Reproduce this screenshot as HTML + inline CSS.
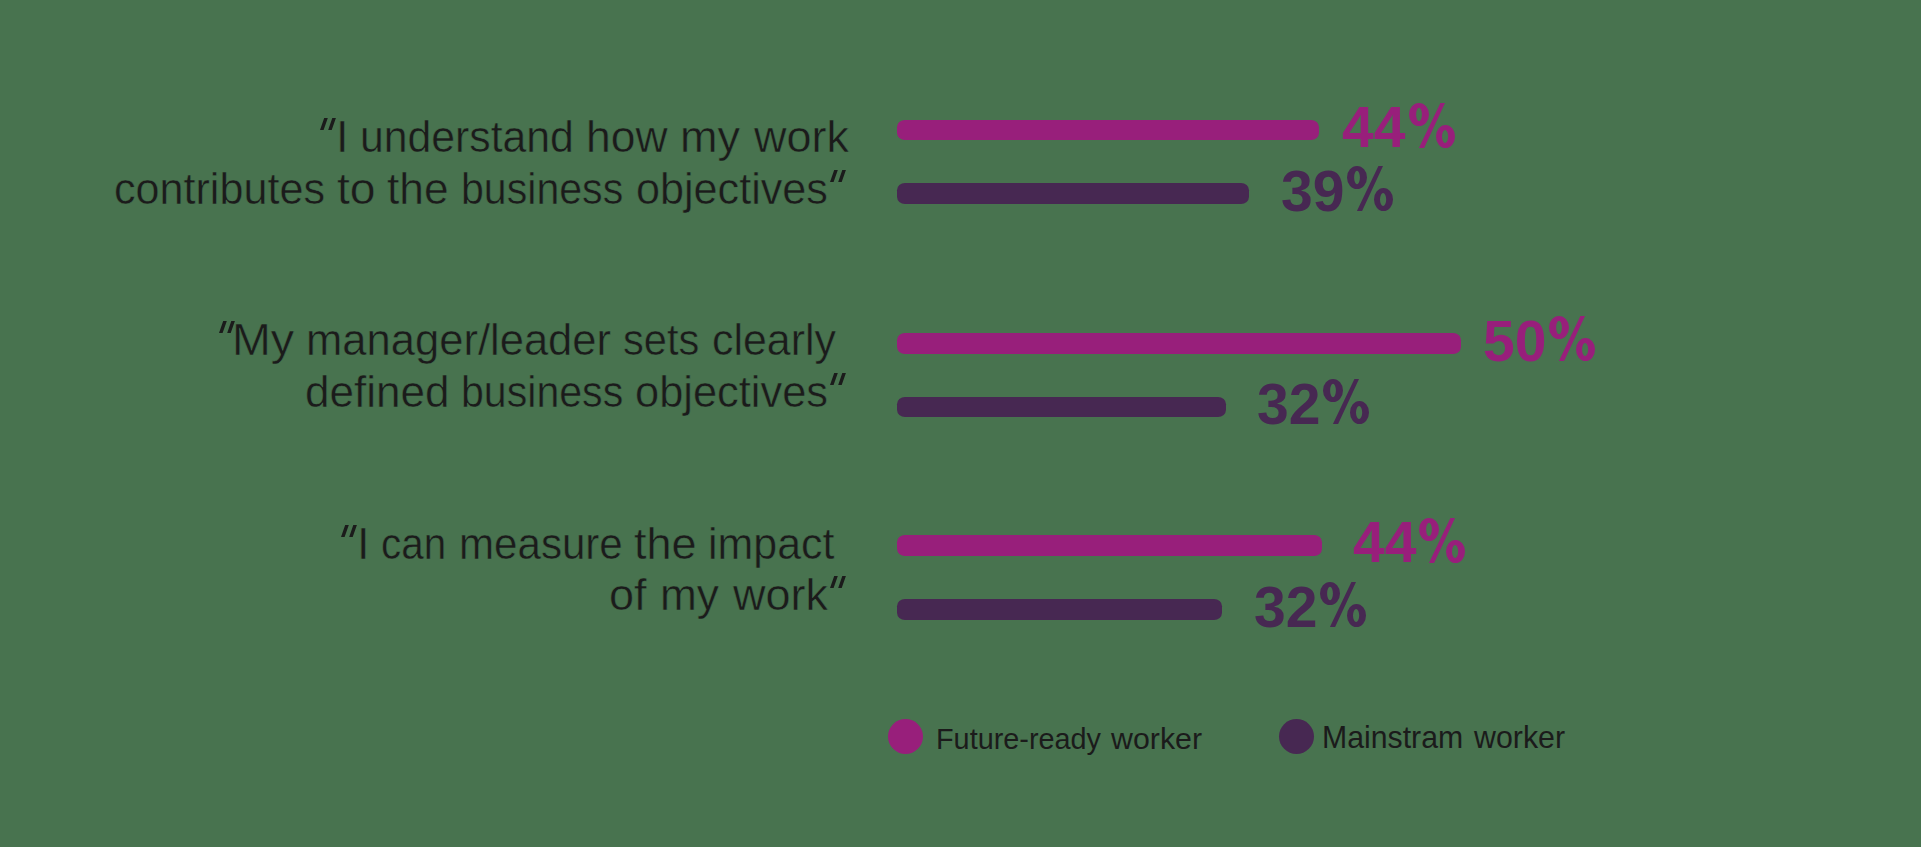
<!DOCTYPE html>
<html><head><meta charset="utf-8"><style>
html,body{margin:0;padding:0;}
body{width:1921px;height:847px;background:#48734f;position:relative;overflow:hidden;font-family:"Liberation Sans",sans-serif;}
.lb{position:absolute;transform-origin:0 50%;-webkit-text-stroke:0.5px #48734f;font-size:45px;line-height:45px;color:#1b1b1b;white-space:nowrap;}
.q,.ps{position:absolute;display:block;}
.bar{position:absolute;border-radius:8px / 7.2px;}
.pc{position:absolute;font-size:57px;line-height:57px;font-weight:bold;white-space:nowrap;}
.dot{position:absolute;border-radius:50%;}
.lg{position:absolute;transform-origin:0 50%;color:#1b1b1b;white-space:nowrap;}
</style></head><body>
<div class="lb" style="left:336.00px;top:113.90px">I</div>
<div class="lb" style="left:360.15px;top:113.90px;transform:scaleX(0.9498)">understand</div>
<div class="lb" style="left:586.04px;top:113.90px;transform:scaleX(0.9873)">how</div>
<div class="lb" style="left:680.00px;top:113.90px">my</div>
<div class="lb" style="left:754.00px;top:113.90px">work</div>
<div class="lb" style="left:114.08px;top:165.90px;transform:scaleX(0.9583)">contributes</div>
<div class="lb" style="left:336.97px;top:165.90px;transform:scaleX(1.0286)">to</div>
<div class="lb" style="left:387.02px;top:165.90px;transform:scaleX(0.9833)">the</div>
<div class="lb" style="left:461.26px;top:165.90px;transform:scaleX(0.9133)">business</div>
<div class="lb" style="left:636.08px;top:165.90px;transform:scaleX(0.9592)">objectives</div>
<div class="lb" style="left:231.86px;top:316.90px;transform:scaleX(1.0357)">My</div>
<div class="lb" style="left:306.10px;top:316.90px;transform:scaleX(0.9678)">manager/leader</div>
<div class="lb" style="left:623.15px;top:316.90px;transform:scaleX(0.9241)">sets</div>
<div class="lb" style="left:712.09px;top:316.90px;transform:scaleX(0.9531)">clearly</div>
<div class="lb" style="left:305.04px;top:368.90px;transform:scaleX(0.9790)">defined</div>
<div class="lb" style="left:461.26px;top:368.90px;transform:scaleX(0.9133)">business</div>
<div class="lb" style="left:635.07px;top:368.90px;transform:scaleX(0.9643)">objectives</div>
<div class="lb" style="left:357.00px;top:520.90px">I</div>
<div class="lb" style="left:381.21px;top:520.90px;transform:scaleX(0.8971)">can</div>
<div class="lb" style="left:459.19px;top:520.90px;transform:scaleX(0.9353)">measure</div>
<div class="lb" style="left:634.00px;top:520.90px">the</div>
<div class="lb" style="left:708.14px;top:520.90px;transform:scaleX(0.9535)">impact</div>
<div class="lb" style="left:609.00px;top:571.90px">of</div>
<div class="lb" style="left:660.05px;top:571.90px;transform:scaleX(0.9825)">my</div>
<div class="lb" style="left:733.00px;top:571.90px">work</div>
<svg class="q" style="left:320px;top:118px" width="16" height="12" viewBox="0 0 16 12"><path fill="#1b1b1b" d="M4.2,0L7.8,0L3.6,12L0,12Z M12.3,0L15.9,0L11.7,12L8.2,12Z"/></svg>
<svg class="q" style="left:830px;top:170px" width="16" height="12" viewBox="0 0 16 12"><path fill="#1b1b1b" d="M4.2,0L7.8,0L3.6,12L0,12Z M12.3,0L15.9,0L11.7,12L8.2,12Z"/></svg>
<svg class="q" style="left:219px;top:321px" width="16" height="12" viewBox="0 0 16 12"><path fill="#1b1b1b" d="M4.2,0L7.8,0L3.6,12L0,12Z M12.3,0L15.9,0L11.7,12L8.2,12Z"/></svg>
<svg class="q" style="left:830px;top:373px" width="16" height="12" viewBox="0 0 16 12"><path fill="#1b1b1b" d="M4.2,0L7.8,0L3.6,12L0,12Z M12.3,0L15.9,0L11.7,12L8.2,12Z"/></svg>
<svg class="q" style="left:341px;top:525px" width="16" height="12" viewBox="0 0 16 12"><path fill="#1b1b1b" d="M4.2,0L7.8,0L3.6,12L0,12Z M12.3,0L15.9,0L11.7,12L8.2,12Z"/></svg>
<svg class="q" style="left:830px;top:576px" width="16" height="12" viewBox="0 0 16 12"><path fill="#1b1b1b" d="M4.2,0L7.8,0L3.6,12L0,12Z M12.3,0L15.9,0L11.7,12L8.2,12Z"/></svg>
<div class="bar" style="left:897px;top:120px;width:422px;height:20px;background:#981f7b"></div>
<div class="bar" style="left:897px;top:183px;width:352px;height:21px;background:#472852"></div>
<div class="bar" style="left:897px;top:333px;width:564px;height:21px;background:#981f7b"></div>
<div class="bar" style="left:897px;top:397px;width:329px;height:20px;background:#472852"></div>
<div class="bar" style="left:897px;top:535px;width:425px;height:21px;background:#981f7b"></div>
<div class="bar" style="left:897px;top:599px;width:325px;height:21px;background:#472852"></div>
<div class="pc" style="left:1342px;top:98.74px;color:#981f7b">44</div>
<svg class="ps" style="left:1409px;top:103px" width="47" height="45" viewBox="0 0 47 45"><path fill="#981f7b" fill-rule="evenodd" d="M0,11.5a10,11.5 0 1,0 20,0a10,11.5 0 1,0 -20,0Z M7.1,11.5a2.9,6.7 0 1,0 5.8,0a2.9,6.7 0 1,0 -5.8,0Z M27,33.5a9.5,11.5 0 1,0 19,0a9.5,11.5 0 1,0 -19,0Z M33,33.5a3.1,6.5 0 1,0 6.2,0a3.1,6.5 0 1,0 -6.2,0Z M31.4,0L36,0L15.1,45L9.9,45Z"/></svg>
<div class="pc" style="left:1281px;top:162.74px;color:#472852">39</div>
<svg class="ps" style="left:1347px;top:166px" width="47" height="45" viewBox="0 0 47 45"><path fill="#472852" fill-rule="evenodd" d="M0,11.5a10,11.5 0 1,0 20,0a10,11.5 0 1,0 -20,0Z M7.1,11.5a2.9,6.7 0 1,0 5.8,0a2.9,6.7 0 1,0 -5.8,0Z M27,33.5a9.5,11.5 0 1,0 19,0a9.5,11.5 0 1,0 -19,0Z M33,33.5a3.1,6.5 0 1,0 6.2,0a3.1,6.5 0 1,0 -6.2,0Z M31.4,0L36,0L15.1,45L9.9,45Z"/></svg>
<div class="pc" style="left:1483px;top:312.74px;color:#981f7b">50</div>
<svg class="ps" style="left:1549px;top:316px" width="47" height="45" viewBox="0 0 47 45"><path fill="#981f7b" fill-rule="evenodd" d="M0,11.5a10,11.5 0 1,0 20,0a10,11.5 0 1,0 -20,0Z M7.1,11.5a2.9,6.7 0 1,0 5.8,0a2.9,6.7 0 1,0 -5.8,0Z M27,33.5a9.5,11.5 0 1,0 19,0a9.5,11.5 0 1,0 -19,0Z M33,33.5a3.1,6.5 0 1,0 6.2,0a3.1,6.5 0 1,0 -6.2,0Z M31.4,0L36,0L15.1,45L9.9,45Z"/></svg>
<div class="pc" style="left:1257px;top:375.74px;color:#472852">32</div>
<svg class="ps" style="left:1323px;top:379px" width="47" height="45" viewBox="0 0 47 45"><path fill="#472852" fill-rule="evenodd" d="M0,11.5a10,11.5 0 1,0 20,0a10,11.5 0 1,0 -20,0Z M7.1,11.5a2.9,6.7 0 1,0 5.8,0a2.9,6.7 0 1,0 -5.8,0Z M27,33.5a9.5,11.5 0 1,0 19,0a9.5,11.5 0 1,0 -19,0Z M33,33.5a3.1,6.5 0 1,0 6.2,0a3.1,6.5 0 1,0 -6.2,0Z M31.4,0L36,0L15.1,45L9.9,45Z"/></svg>
<div class="pc" style="left:1353px;top:513.74px;color:#981f7b">44</div>
<svg class="ps" style="left:1419px;top:518px" width="47" height="45" viewBox="0 0 47 45"><path fill="#981f7b" fill-rule="evenodd" d="M0,11.5a10,11.5 0 1,0 20,0a10,11.5 0 1,0 -20,0Z M7.1,11.5a2.9,6.7 0 1,0 5.8,0a2.9,6.7 0 1,0 -5.8,0Z M27,33.5a9.5,11.5 0 1,0 19,0a9.5,11.5 0 1,0 -19,0Z M33,33.5a3.1,6.5 0 1,0 6.2,0a3.1,6.5 0 1,0 -6.2,0Z M31.4,0L36,0L15.1,45L9.9,45Z"/></svg>
<div class="pc" style="left:1254px;top:578.74px;color:#472852">32</div>
<svg class="ps" style="left:1320px;top:582px" width="47" height="45" viewBox="0 0 47 45"><path fill="#472852" fill-rule="evenodd" d="M0,11.5a10,11.5 0 1,0 20,0a10,11.5 0 1,0 -20,0Z M7.1,11.5a2.9,6.7 0 1,0 5.8,0a2.9,6.7 0 1,0 -5.8,0Z M27,33.5a9.5,11.5 0 1,0 19,0a9.5,11.5 0 1,0 -19,0Z M33,33.5a3.1,6.5 0 1,0 6.2,0a3.1,6.5 0 1,0 -6.2,0Z M31.4,0L36,0L15.1,45L9.9,45Z"/></svg>
<div class="dot" style="left:888px;top:719px;width:35px;height:35px;background:#981f7b"></div>
<div class="dot" style="left:1279px;top:719px;width:35px;height:35px;background:#472852"></div>
<div class="lg" style="left:936.01px;top:725.45px;font-size:29px;line-height:29px;transform:scaleX(0.9939)">Future-ready</div>
<div class="lg" style="left:1111.00px;top:725.45px;font-size:29px;line-height:29px;transform:scaleX(1.0460)">worker</div>
<div class="lg" style="left:1322.11px;top:720.91px;font-size:32px;line-height:32px;transform:scaleX(0.9452)">Mainstram</div>
<div class="lg" style="left:1474.00px;top:720.91px;font-size:32px;line-height:32px;transform:scaleX(0.9479)">worker</div>
</body></html>
